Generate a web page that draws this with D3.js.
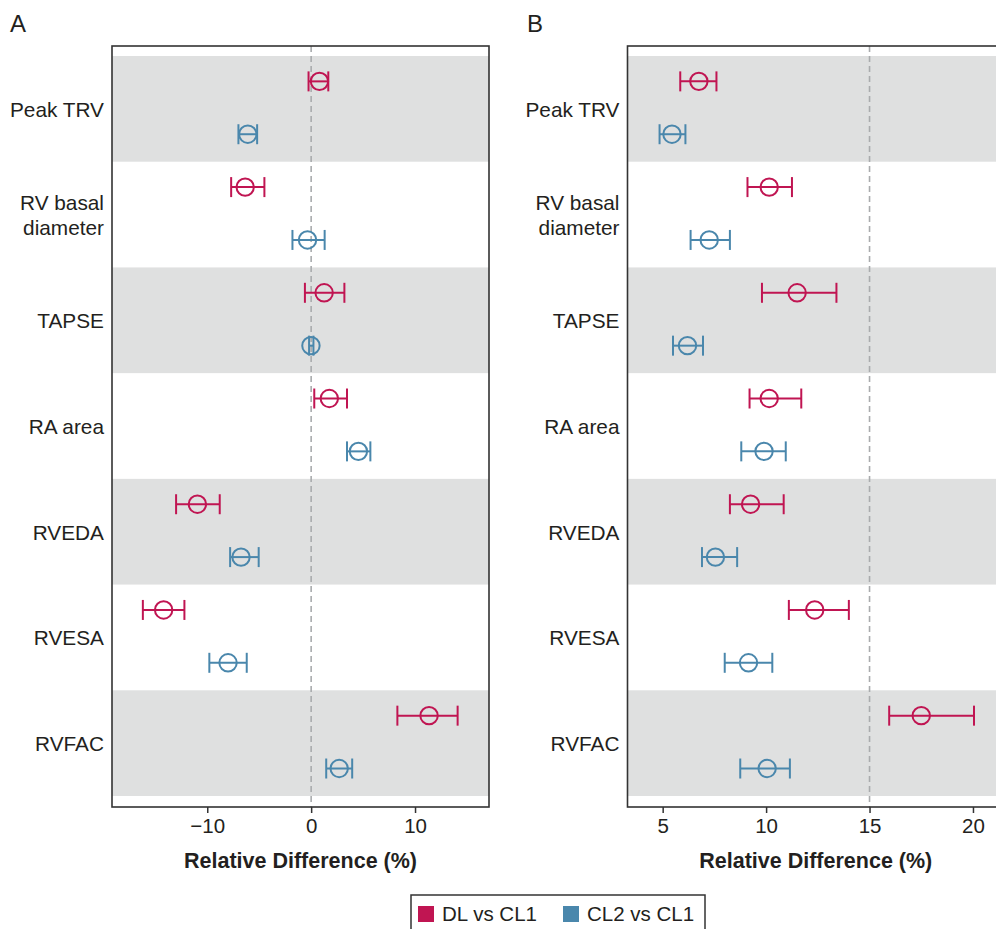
<!DOCTYPE html>
<html>
<head>
<meta charset="utf-8">
<script src="https://cdn.jsdelivr.net/npm/d3@7"></script>
<style>
  html, body { margin: 0; padding: 0; background: #fff; }
  svg { display: block; font-family: "Liberation Sans", Arial, Helvetica, sans-serif; }
</style>
</head>
<body>
<svg id="chart" width="996" height="929"></svg>
<script>
// Measurements (rows, top to bottom)
const categories = ["Peak TRV", "RV basal diameter", "TAPSE", "RA area", "RVEDA", "RVESA", "RVFAC"];
const seriesNames = ["DL vs CL1", "CL2 vs CL1"];
const seriesColors = ["#c01552", "#4a87ac"];

// Panel A: relative difference (%), estimate with lower / upper limits
const aDlMean  = [0.8, -6.35, 1.25, 1.75, -10.95, -14.2, 11.35];
const aDlLow   = [-0.25, -7.7, -0.6, 0.3, -13.0, -16.2, 8.3];
const aDlHigh  = [1.65, -4.5, 3.2, 3.45, -8.8, -12.2, 14.1];
const aCl2Mean = [-6.1, -0.35, -0.02, 4.55, -6.75, -8.0, 2.7];
const aCl2Low  = [-7.0, -1.8, -0.2, 3.45, -7.8, -9.8, 1.45];
const aCl2High = [-5.2, 1.3, 0.22, 5.7, -5.05, -6.2, 3.95];
const aTicks = [-10, 0, 10];
const aReference = 0;

// Panel B: relative difference (%), estimate with lower / upper limits
const bDlMean  = [6.75, 10.15, 11.5, 10.15, 9.25, 12.35, 17.5];
const bDlLow   = [5.85, 9.1, 9.8, 9.2, 8.25, 11.1, 15.95];
const bDlHigh  = [7.6, 11.25, 13.4, 11.7, 10.85, 14.0, 20.05];
const bCl2Mean = [5.45, 7.25, 6.2, 9.9, 7.55, 9.15, 10.05];
const bCl2Low  = [4.85, 6.35, 5.5, 8.8, 6.9, 8.0, 8.75];
const bCl2High = [6.1, 8.25, 6.95, 10.95, 8.6, 10.3, 11.15];
const bTicks = [5, 10, 15, 20];
const bReference = 15;

const svg = d3.select("#chart");
const textColor = "#231f20";
const frameTop = 46, frameBottom = 807;

function wrapLabel(s) {
  if (s.length <= 12) return [s];
  const i = s.lastIndexOf(" ");
  return [s.slice(0, i), s.slice(i + 1)];
}

function drawPanel(cfg) {
  const g = svg.append("g");
  const x = d3.scaleLinear().domain(cfg.domain).range([cfg.left, cfg.right]);
  const y = d3.scaleBand().domain(categories).range([56, 796]);
  const bw = y.bandwidth();

  // alternating shaded bands
  g.selectAll("rect.band")
    .data(categories.filter((d, i) => i % 2 === 0))
    .join("rect")
    .attr("class", "band")
    .attr("x", cfg.left)
    .attr("y", d => y(d))
    .attr("width", cfg.right - cfg.left)
    .attr("height", bw)
    .attr("fill", "#dfe0e0");

  // reference line
  g.append("line")
    .attr("x1", x(cfg.reference)).attr("x2", x(cfg.reference))
    .attr("y1", frameTop).attr("y2", frameBottom)
    .attr("stroke", "#a9abad")
    .attr("stroke-width", 1.6)
    .attr("stroke-dasharray", "6,4");

  // frame
  g.append("rect")
    .attr("x", cfg.left).attr("y", frameTop)
    .attr("width", cfg.right - cfg.left).attr("height", frameBottom - frameTop)
    .attr("fill", "none").attr("stroke", "#333").attr("stroke-width", 1.6);

  // estimates with error bars
  const series = [
    { mean: cfg.dl[0], lo: cfg.dl[1], hi: cfg.dl[2], color: seriesColors[0], frac: 0.24 },
    { mean: cfg.cl2[0], lo: cfg.cl2[1], hi: cfg.cl2[2], color: seriesColors[1], frac: 0.74 }
  ];
  series.forEach(s => {
    const rows = categories.map((c, i) => ({
      cy: y(c) + bw * s.frac, m: s.mean[i], lo: s.lo[i], hi: s.hi[i]
    }));
    const sg = g.append("g").attr("stroke", s.color).attr("stroke-width", 2).attr("fill", "none");
    sg.selectAll("line.bar").data(rows).join("line")
      .attr("x1", d => x(d.lo)).attr("x2", d => x(d.hi))
      .attr("y1", d => d.cy).attr("y2", d => d.cy);
    sg.selectAll("line.capl").data(rows).join("line")
      .attr("x1", d => x(d.lo)).attr("x2", d => x(d.lo))
      .attr("y1", d => d.cy - 10).attr("y2", d => d.cy + 10);
    sg.selectAll("line.caph").data(rows).join("line")
      .attr("x1", d => x(d.hi)).attr("x2", d => x(d.hi))
      .attr("y1", d => d.cy - 10).attr("y2", d => d.cy + 10);
    sg.selectAll("circle").data(rows).join("circle")
      .attr("cx", d => x(d.m)).attr("cy", d => d.cy).attr("r", 8.7);
  });

  // category labels
  categories.forEach(c => {
    const lines = wrapLabel(c);
    const cy = y(c) + bw / 2;
    const t = g.append("text")
      .attr("x", cfg.left - 8)
      .attr("text-anchor", "end")
      .attr("font-size", 20.8)
      .attr("fill", textColor);
    lines.forEach((ln, i) => {
      t.append("tspan")
        .attr("x", cfg.left - 8)
        .attr("y", cy + 8 + (i - (lines.length - 1) / 2) * 25)
        .text(ln);
    });
  });

  // bottom axis
  const ax = g.append("g")
    .attr("transform", `translate(0,${frameBottom})`)
    .call(d3.axisBottom(x).tickValues(cfg.ticks).tickSize(6).tickSizeOuter(0).tickPadding(5));
  ax.select(".domain").remove();
  ax.selectAll(".tick line").attr("stroke", "#333").attr("stroke-width", 1.5);
  ax.selectAll(".tick text")
    .attr("font-size", 20.5)
    .attr("font-family", "Liberation Sans, Arial, sans-serif")
    .attr("fill", textColor);

  g.append("text")
    .attr("x", (cfg.left + cfg.right) / 2)
    .attr("y", 868)
    .attr("text-anchor", "middle")
    .attr("font-size", 21.5)
    .attr("font-weight", "bold")
    .attr("fill", textColor)
    .text("Relative Difference (%)");

  g.append("text")
    .attr("x", cfg.letterX)
    .attr("y", 32)
    .attr("font-size", 24)
    .attr("fill", textColor)
    .text(cfg.letter);
}

drawPanel({
  letter: "A", letterX: 10, left: 112, right: 489,
  domain: [-19.17, 17.12], ticks: aTicks, reference: aReference,
  dl: [aDlMean, aDlLow, aDlHigh], cl2: [aCl2Mean, aCl2Low, aCl2High]
});
drawPanel({
  letter: "B", letterX: 527, left: 627.5, right: 1004,
  domain: [3.3, 21.5], ticks: bTicks, reference: bReference,
  dl: [bDlMean, bDlLow, bDlHigh], cl2: [bCl2Mean, bCl2Low, bCl2High]
});

// legend
const lg = svg.append("g");
lg.append("rect")
  .attr("x", 411).attr("y", 895).attr("width", 294).attr("height", 50)
  .attr("fill", "#fff").attr("stroke", "#333").attr("stroke-width", 1.5);
const legendX = [418, 563];
seriesNames.forEach((name, i) => {
  lg.append("rect")
    .attr("x", legendX[i]).attr("y", 906).attr("width", 16).attr("height", 16)
    .attr("fill", seriesColors[i]);
  lg.append("text")
    .attr("x", legendX[i] + 24).attr("y", 921)
    .attr("font-size", 20.5).attr("fill", textColor)
    .text(name);
});
</script>
</body>
</html>
